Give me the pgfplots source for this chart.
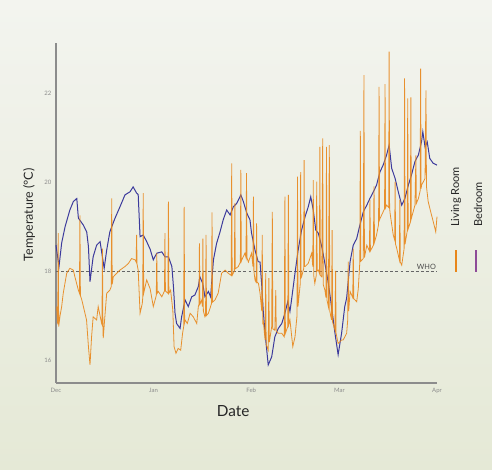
\documentclass[border=0pt]{standalone}
\usepackage{pgfplots}
\pgfplotsset{compat=1.18}
\usepackage{fontspec}
\setmainfont{Lato}
\definecolor{bgtop}{HTML}{F3F4EF}
\definecolor{bgbot}{HTML}{E5E9D6}
\definecolor{living}{HTML}{E8861A}
\definecolor{bed}{HTML}{3C3A9C}
\definecolor{bedleg}{HTML}{8E4B98}
\definecolor{axisgray}{HTML}{8C8C8C}
\begin{document}
\begin{tikzpicture}[x=1pt,y=1pt]
\path[use as bounding box] (-42,-65.25) rectangle (327,287.25);
\shade[top color=bgtop, bottom color=bgbot] (-42,-65.25) rectangle (327,287.25);
\begin{axis}[
  at={(0,0)}, anchor=south west,
  scale only axis, width=285.75pt, height=255pt,
  xmin=0, xmax=121, ymin=15.483, ymax=23.124,
  axis x line*=bottom, axis y line*=left,
  axis line style={draw=axisgray, line width=1pt, -},
  xtick={0,31,62,90,121}, xticklabels={Dec,Jan,Feb,Mar,Apr},
  ytick={16,18,20,22},
  major tick length=0pt,
  /pgf/number format/assume math mode=true,
  tick label style={font=\fontsize{4.5}{5}\selectfont, text=black!45},
  xlabel={Date},
  xlabel style={at={(axis description cs:0.465,0)}, anchor=center, yshift=-21pt, font=\fontsize{11.5}{13}\selectfont, text=black!85},
  clip=false,
]
% WHO reference
\addplot[draw=black!60, line width=0.7pt, dash pattern=on 2.2pt off 1.6pt] coordinates {(0,18) (121,18)};
\node[anchor=south east, font=\fontsize{5.5}{6}\selectfont, text=black!70, inner sep=0.6pt] at (axis cs:121,18) {WHO};
% Bedroom
\addplot[draw=bed, line width=0.75pt] coordinates {
(0,18.58) (0.95,18.1) (1.8,18.63) (2.9,19.0) (4.4,19.37) (5.5,19.56) (6.6,19.63) (7.1,19.19)
(8.7,19.03) (9.75,18.88) (10.3,18.55) (10.8,17.76) (11.8,18.32) (12.9,18.58) (14.0,18.66)
(14.5,18.43) (15.3,18.06) (16.1,18.47) (17.1,18.88) (18.7,19.18) (20.3,19.44) (21.9,19.71)
(23.5,19.78) (24.5,19.89) (25.6,19.75) (26.1,19.72) (26.7,18.77) (27.7,18.81) (28.8,18.66)
(29.9,18.49) (30.9,18.25) (32.0,18.4) (33.6,18.43) (34.6,18.32) (35.7,18.32) (36.8,18.1)
(37.3,17.65) (37.8,17.05) (38.3,16.82) (39.4,16.71) (39.9,16.97) (41.0,17.35) (42.0,17.2)
(43.1,17.42) (44.1,17.46) (45.2,17.65) (45.7,17.87) (46.6,17.72) (47.3,17.42) (48.4,17.54)
(49.1,17.42) (50.0,18.25) (51.0,18.62) (52.1,18.88) (53.1,19.15) (54.2,19.37) (55.3,19.26)
(56.3,19.44) (57.4,19.52) (58.7,19.71) (59.5,19.56) (60.6,19.3) (61.6,19.15) (62.1,18.85)
(63.2,18.47) (64.2,18.21) (64.8,18.2) (65.3,17.72) (65.8,17.12) (66.4,16.6) (67.4,15.89)
(68.5,16.07) (69.5,16.52) (70.6,16.71) (71.7,16.82) (72.7,17.05) (73.6,17.31) (74.3,17.09)
(74.8,17.35) (75.9,17.95) (76.9,18.47) (78.0,18.92) (79.1,19.22) (80.1,19.44) (80.9,19.67)
(81.7,19.37) (82.5,18.92) (83.3,18.85) (84.4,18.55) (85.4,18.17) (86.5,17.72) (87.5,17.2)
(88.6,16.6) (89.6,16.12) (90.7,16.6) (91.7,17.2) (92.3,17.39) (93.4,18.21) (94.4,18.58)
(95.5,18.73) (96.5,19.03) (97.6,19.33) (98.7,19.48) (99.7,19.63) (100.8,19.78) (101.8,19.93)
(102.9,20.23) (103.9,20.38) (105.0,20.61) (105.8,20.83) (106.6,20.31) (107.7,20.08) (108.7,19.78)
(109.8,19.48) (110.8,19.63) (111.9,19.93) (112.9,20.16) (114.0,20.46) (115.1,20.61) (116.1,20.91)
(116.5,21.13) (117.2,20.79) (117.9,20.9) (118.7,20.53) (119.8,20.42) (121.0,20.38)
};
% Living Room
\addplot[draw=living, line width=0.6pt, opacity=0.9] coordinates {
(0.2,17.2) (0.55,16.8) (0.7,18.85) (0.85,16.75) (1.3,17.0) (1.8,17.2) (2.3,17.5) (3.4,17.95)
(4.4,18.06) (5.5,18.02) (6.0,17.87) (7.1,17.57) (7.45,17.5) (7.6,19.25) (7.75,17.45) (8.2,17.35)
(9.2,17.05) (9.7,16.9) (10.3,16.3) (10.8,15.89) (11.3,16.52) (11.8,16.97) (12.9,16.9) (13.4,17.2)
(14.5,16.82) (14.6,16.8) (14.75,18.5) (14.9,16.7) (15.0,16.49) (15.6,17.05) (16.1,17.5) (17.1,17.57)
(17.55,17.65) (17.7,19.63) (17.85,17.7) (18.2,17.87) (19.3,17.95) (20.3,18.02) (21.9,18.1)
(23.0,18.17) (24.0,18.28) (25.1,18.25) (25.45,18.2) (25.6,18.81) (25.75,18.15) (26.1,18.02)
(26.7,17.05) (27.4,17.27) (27.55,17.4) (27.7,19.75) (27.85,17.5) (28.8,17.8) (29.9,17.6)
(30.9,17.2) (31.85,17.45) (32.0,18.4) (32.15,17.5) (32.5,17.54) (33.6,17.42) (34.45,17.55)
(34.6,18.85) (34.75,17.55) (35.55,17.5) (35.7,19.56) (35.85,17.5) (36.4,17.57) (37.1,17.12)
(37.5,16.3) (38.1,16.15) (38.8,16.26) (39.6,16.22) (40.2,16.6) (40.55,16.75) (40.7,19.44)
(40.85,16.85) (41.0,16.9) (41.7,16.82) (42.6,17.05) (43.6,16.97) (44.7,16.82) (45.2,17.2)
(45.4,17.25) (45.55,18.62) (45.7,17.25) (46.3,17.35) (46.5,17.2) (46.65,18.73) (46.8,17.1)
(47.3,16.97) (47.5,17.0) (47.65,18.81) (47.8,17.0) (48.4,17.05) (49.4,17.27) (49.55,19.32)
(49.7,17.3) (50.5,17.35) (51.5,17.5) (52.6,17.95) (53.7,18.02) (54.7,17.95) (55.65,17.9)
(55.8,20.42) (55.95,17.9) (56.65,18.0) (56.8,19.52) (56.95,18.05) (57.9,18.1) (58.55,18.2)
(58.7,20.27) (58.85,18.22) (59.0,18.25) (60.0,18.4) (60.35,18.3) (60.5,20.2) (60.65,18.3)
(61.1,18.2) (62.1,18.4) (62.55,18.1) (62.7,19.67) (62.85,18.0) (63.2,17.8) (63.55,17.75)
(63.7,19.07) (63.85,17.75) (64.3,17.72) (64.8,17.5) (65.35,17.1) (65.5,18.81) (65.65,16.8)
(65.8,16.9) (66.4,16.45) (66.6,17.95) (66.75,16.35) (67.4,16.22) (67.6,17.84) (67.75,16.4)
(68.5,16.75) (68.7,19.33) (68.85,16.7) (69.5,16.67) (69.8,17.57) (69.95,16.65) (70.6,16.6)
(71.7,16.6) (72.5,16.52) (72.7,19.67) (72.85,16.6) (73.6,16.75) (73.8,19.71) (73.95,16.8)
(74.3,16.9) (75.2,16.3) (75.9,16.52) (76.55,17.0) (76.7,20.12) (76.85,17.2) (77.55,17.7)
(77.7,20.22) (77.85,17.85) (78.0,17.87) (78.65,18.05) (78.8,20.49) (78.95,18.1) (79.1,18.1)
(80.1,18.17) (81.2,18.4) (81.55,18.1) (81.7,20.04) (81.85,17.9) (82.2,17.72) (82.65,17.9)
(82.8,20.01) (82.95,18.0) (83.3,18.02) (83.65,17.95) (83.8,20.79) (83.95,17.9) (84.4,17.87)
(84.7,20.98) (84.85,17.7) (85.4,17.57) (85.75,17.4) (85.9,20.79) (86.05,17.35) (86.5,17.2)
(86.8,20.83) (86.95,17.1) (87.5,16.9) (87.7,18.92) (87.85,16.85) (88.6,16.67) (88.8,18.0)
(88.95,16.6) (89.6,16.37) (90.7,16.45) (91.2,16.45) (92.3,16.6) (92.65,16.9) (92.8,18.21)
(92.95,17.1) (93.4,17.54) (94.25,17.4) (94.4,18.5) (94.55,17.38) (95.5,17.31) (96.0,17.6)
(96.5,18.21) (96.65,21.15) (96.8,18.22) (97.6,18.28) (97.8,22.4) (97.95,18.3) (98.7,18.58)
(99.55,18.45) (99.7,19.6) (99.85,18.45) (100.8,18.58) (101.0,19.9) (101.15,18.65) (101.8,18.81)
(102.45,19.05) (102.6,22.14) (102.75,19.15) (102.9,19.18) (103.9,19.33) (104.35,19.4) (104.5,22.2)
(104.65,19.42) (105.0,19.48) (105.65,19.43) (105.8,22.93) (105.95,19.41) (106.1,19.3) (107.1,18.81)
(107.55,18.7) (107.7,20.0) (107.85,18.6) (108.2,18.51) (109.05,18.25) (109.2,19.6) (109.35,18.2)
(109.8,18.13) (110.55,18.5) (110.7,22.33) (110.85,18.6) (111.2,18.75) (111.55,18.9) (111.7,21.88)
(111.85,18.95) (112.55,19.1) (112.7,21.9) (112.85,19.18) (114.0,19.48) (114.3,20.6) (114.45,19.52)
(115.1,19.63) (115.65,19.8) (115.8,22.55) (115.95,19.85) (116.1,19.93) (117.2,20.08) (117.5,22.06)
(117.65,19.9) (118.2,19.56) (119.0,19.33) (119.8,19.11) (120.6,18.88) (121.0,19.22)
};
\end{axis}
% y label
\node[rotate=90, font=\fontsize{9.4}{11}\selectfont, text=black!85] at (-20.25,126) {Temperature (°C)};
% legend
\node[rotate=90, anchor=west, font=\fontsize{8.3}{10}\selectfont, text=black!85, inner sep=0pt] at (300,117) {Living Room};
\node[rotate=90, anchor=west, font=\fontsize{8.3}{10}\selectfont, text=black!85, inner sep=0pt] at (316.5,117) {Bedroom};
\draw[living, line width=2.2pt] (300,83.25) -- (300,99.75);
\draw[bedleg, line width=2.2pt] (315,83.25) -- (315,99.75);
\end{tikzpicture}
\end{document}
